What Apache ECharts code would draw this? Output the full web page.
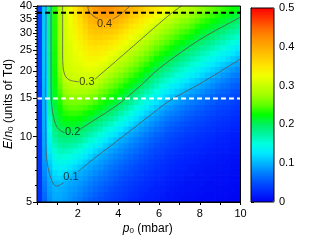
<!DOCTYPE html>
<html><head><meta charset="utf-8">
<script src="https://cdn.jsdelivr.net/npm/echarts@6/dist/echarts.min.js"></script>
<style>html,body{margin:0;padding:0;background:#fff}#c{width:317px;height:240px}</style>
</head><body><div id="c"></div>
<script>
// ---- data ----
// cell edges along p0 (mbar) and along E/n0 (Td)
const pEdges = [0,0.25,0.5,0.75,1,1.25,1.5,1.75,2,2.25,2.5,2.75,3,3.25,3.5,3.75,4,4.25,4.5,4.75,5,5.25,5.5,5.75,6,6.25,6.5,6.75,7,7.25,7.5,7.75,8,8.25,8.5,8.75,9,9.25,9.5,9.75,10];
const eEdges = [5,5.3,5.6,5.95,6.3,6.65,7.05,7.5,7.9,8.4,8.9,9.4,10,10.6,11.2,11.85,12.55,13.3,14.1,14.9,15.8,16.75,17.75,18.8,19.9,21.1,22.3,23.65,25.05,26.55,28.1,29.8,31.55,33.4,35.4,37.5,40];
// one list per p0 column (left to right), values from low E/n0 to high E/n0
const fCol00 = [0.030,0.030,0.031,0.031,0.032,0.032,0.033,0.033,0.034,0.034,0.035,0.035,0.036,0.036,0.037,0.037,0.038,0.038,0.038,0.039,0.039,0.039,0.04,0.04,0.04,0.04,0.04,0.04,0.04,0.04,0.04,0.04,0.04,0.04,0.04,0.04];
const fCol01 = [0.061,0.064,0.068,0.072,0.076,0.08,0.084,0.087,0.09,0.092,0.094,0.095,0.096,0.097,0.098,0.099,0.1,0.101,0.102,0.103,0.104,0.105,0.106,0.107,0.108,0.108,0.109,0.109,0.11,0.11,0.11,0.11,0.11,0.11,0.11,0.11];
const fCol02 = [0.082,0.086,0.09,0.093,0.097,0.102,0.108,0.114,0.12,0.126,0.132,0.138,0.144,0.15,0.156,0.162,0.168,0.171,0.173,0.175,0.176,0.177,0.178,0.178,0.179,0.179,0.179,0.18,0.18,0.18,0.18,0.18,0.18,0.18,0.18,0.18];
const fCol03 = [0.094,0.096,0.099,0.103,0.112,0.12,0.129,0.137,0.146,0.154,0.163,0.172,0.18,0.189,0.197,0.202,0.206,0.209,0.213,0.216,0.22,0.223,0.225,0.226,0.227,0.228,0.229,0.229,0.23,0.231,0.232,0.232,0.233,0.234,0.234,0.235];
const fCol04 = [0.093,0.096,0.098,0.105,0.114,0.124,0.134,0.144,0.154,0.164,0.173,0.183,0.193,0.202,0.208,0.214,0.22,0.226,0.232,0.238,0.244,0.25,0.256,0.262,0.268,0.271,0.272,0.273,0.274,0.275,0.276,0.277,0.277,0.278,0.279,0.28];
const fCol05 = [0.089,0.092,0.095,0.099,0.109,0.12,0.131,0.142,0.153,0.164,0.175,0.186,0.197,0.206,0.216,0.225,0.234,0.243,0.253,0.262,0.271,0.28,0.29,0.299,0.301,0.302,0.303,0.303,0.304,0.305,0.305,0.306,0.307,0.307,0.308,0.309];
const fCol06 = [0.084,0.086,0.09,0.094,0.1,0.112,0.124,0.136,0.148,0.16,0.172,0.184,0.196,0.207,0.217,0.228,0.238,0.249,0.259,0.269,0.28,0.29,0.3,0.302,0.305,0.307,0.309,0.311,0.313,0.315,0.318,0.32,0.322,0.324,0.326,0.329];
const fCol07 = [0.078,0.082,0.086,0.091,0.095,0.104,0.117,0.129,0.142,0.155,0.168,0.181,0.194,0.205,0.216,0.227,0.238,0.249,0.259,0.27,0.281,0.292,0.302,0.306,0.31,0.313,0.317,0.32,0.324,0.328,0.331,0.335,0.339,0.342,0.346,0.349];
const fCol08 = [0.072,0.077,0.081,0.086,0.092,0.098,0.108,0.121,0.134,0.148,0.161,0.175,0.188,0.201,0.213,0.224,0.236,0.247,0.259,0.27,0.281,0.293,0.302,0.307,0.312,0.317,0.322,0.327,0.332,0.337,0.342,0.347,0.352,0.357,0.362,0.367];
const fCol09 = [0.065,0.07,0.075,0.08,0.086,0.092,0.099,0.111,0.125,0.138,0.152,0.166,0.179,0.193,0.206,0.218,0.23,0.243,0.255,0.267,0.28,0.292,0.302,0.309,0.315,0.322,0.328,0.334,0.341,0.347,0.354,0.36,0.367,0.373,0.38,0.387];
const fCol10 = [0.059,0.064,0.069,0.074,0.08,0.086,0.093,0.1,0.114,0.128,0.142,0.156,0.17,0.184,0.198,0.211,0.224,0.237,0.25,0.263,0.276,0.289,0.301,0.309,0.317,0.325,0.333,0.341,0.349,0.357,0.365,0.373,0.381,0.389,0.397,0.403];
const fCol11 = [0.054,0.059,0.063,0.069,0.074,0.081,0.087,0.095,0.104,0.118,0.133,0.147,0.161,0.175,0.189,0.203,0.216,0.23,0.243,0.257,0.27,0.284,0.297,0.307,0.316,0.325,0.333,0.342,0.351,0.36,0.369,0.377,0.386,0.395,0.403,0.412];
const fCol12 = [0.049,0.053,0.058,0.063,0.069,0.075,0.082,0.089,0.097,0.108,0.123,0.137,0.152,0.166,0.18,0.195,0.208,0.221,0.234,0.247,0.26,0.273,0.287,0.3,0.31,0.319,0.329,0.339,0.349,0.359,0.368,0.378,0.388,0.398,0.408,0.419];
const fCol13 = [0.045,0.049,0.054,0.058,0.064,0.07,0.076,0.083,0.09,0.099,0.113,0.127,0.142,0.156,0.171,0.186,0.2,0.213,0.226,0.239,0.251,0.264,0.277,0.29,0.302,0.313,0.323,0.334,0.345,0.356,0.367,0.377,0.388,0.399,0.411,0.423];
const fCol14 = [0.041,0.045,0.049,0.054,0.059,0.064,0.07,0.077,0.084,0.092,0.102,0.117,0.132,0.147,0.162,0.177,0.192,0.205,0.218,0.23,0.242,0.255,0.267,0.279,0.292,0.304,0.316,0.327,0.339,0.351,0.363,0.374,0.386,0.398,0.408,0.419];
const fCol15 = [0.037,0.04,0.044,0.049,0.054,0.059,0.065,0.071,0.078,0.086,0.095,0.106,0.122,0.137,0.152,0.167,0.182,0.197,0.21,0.222,0.234,0.246,0.258,0.27,0.282,0.294,0.307,0.319,0.331,0.344,0.356,0.368,0.381,0.393,0.403,0.411];
const fCol16 = [0.034,0.037,0.041,0.045,0.049,0.054,0.06,0.066,0.073,0.08,0.088,0.097,0.111,0.126,0.141,0.156,0.171,0.186,0.201,0.213,0.225,0.237,0.249,0.261,0.273,0.285,0.297,0.309,0.322,0.335,0.347,0.36,0.373,0.385,0.398,0.406];
const fCol17 = [0.031,0.034,0.037,0.041,0.045,0.05,0.055,0.061,0.067,0.074,0.082,0.091,0.1,0.115,0.13,0.145,0.16,0.175,0.19,0.204,0.216,0.228,0.24,0.252,0.264,0.276,0.288,0.299,0.312,0.325,0.337,0.35,0.363,0.376,0.388,0.4];
const fCol18 = [0.027,0.03,0.034,0.037,0.041,0.046,0.05,0.056,0.062,0.068,0.076,0.084,0.093,0.104,0.119,0.134,0.149,0.164,0.179,0.193,0.206,0.218,0.23,0.242,0.254,0.266,0.277,0.289,0.301,0.314,0.327,0.339,0.352,0.365,0.377,0.391];
const fCol19 = [0.025,0.028,0.031,0.034,0.038,0.042,0.047,0.052,0.057,0.064,0.071,0.078,0.087,0.096,0.108,0.123,0.137,0.152,0.167,0.182,0.196,0.209,0.221,0.233,0.245,0.257,0.268,0.28,0.292,0.304,0.317,0.33,0.343,0.356,0.369,0.383];
const fCol20 = [0.022,0.025,0.027,0.03,0.034,0.038,0.042,0.047,0.052,0.058,0.064,0.071,0.079,0.088,0.098,0.112,0.126,0.141,0.155,0.17,0.184,0.199,0.211,0.223,0.235,0.246,0.258,0.27,0.282,0.294,0.307,0.32,0.333,0.346,0.359,0.373];
const fCol21 = [0.02,0.022,0.025,0.028,0.031,0.034,0.038,0.043,0.048,0.053,0.059,0.066,0.073,0.082,0.091,0.101,0.116,0.13,0.144,0.158,0.172,0.186,0.2,0.213,0.225,0.237,0.249,0.261,0.273,0.285,0.296,0.309,0.322,0.335,0.348,0.363];
const fCol22 = [0.018,0.02,0.022,0.025,0.028,0.031,0.035,0.039,0.043,0.048,0.054,0.06,0.067,0.075,0.084,0.093,0.105,0.119,0.133,0.147,0.161,0.175,0.188,0.202,0.214,0.226,0.238,0.25,0.262,0.274,0.286,0.298,0.312,0.326,0.34,0.354];
const fCol23 = [0.016,0.018,0.02,0.022,0.025,0.028,0.031,0.035,0.039,0.044,0.049,0.055,0.061,0.069,0.077,0.086,0.096,0.109,0.123,0.136,0.15,0.164,0.177,0.191,0.204,0.216,0.228,0.24,0.252,0.264,0.276,0.288,0.3,0.315,0.329,0.345];
const fCol24 = [0.015,0.017,0.019,0.021,0.023,0.026,0.029,0.032,0.036,0.041,0.045,0.051,0.057,0.064,0.071,0.079,0.089,0.099,0.113,0.126,0.14,0.153,0.167,0.181,0.194,0.207,0.219,0.231,0.243,0.255,0.267,0.279,0.291,0.304,0.32,0.336];
const fCol25 = [0.013,0.014,0.016,0.018,0.02,0.023,0.026,0.029,0.032,0.036,0.041,0.046,0.051,0.057,0.064,0.072,0.081,0.091,0.103,0.117,0.13,0.144,0.158,0.171,0.185,0.199,0.211,0.223,0.235,0.247,0.258,0.27,0.282,0.294,0.308,0.326];
const fCol26 = [0.012,0.013,0.015,0.017,0.019,0.021,0.024,0.027,0.03,0.033,0.038,0.042,0.048,0.053,0.06,0.067,0.076,0.085,0.096,0.108,0.122,0.135,0.149,0.163,0.176,0.19,0.203,0.215,0.226,0.238,0.25,0.262,0.274,0.286,0.298,0.316];
const fCol27 = [0.011,0.012,0.013,0.015,0.017,0.019,0.022,0.024,0.027,0.031,0.035,0.039,0.044,0.05,0.056,0.063,0.071,0.08,0.09,0.101,0.114,0.127,0.141,0.154,0.167,0.181,0.194,0.207,0.218,0.23,0.242,0.253,0.265,0.277,0.288,0.3];
const fCol28 = [0.01,0.011,0.012,0.014,0.016,0.018,0.02,0.022,0.025,0.028,0.032,0.036,0.041,0.046,0.052,0.059,0.066,0.074,0.084,0.095,0.107,0.12,0.133,0.146,0.159,0.172,0.186,0.199,0.21,0.222,0.234,0.245,0.257,0.268,0.28,0.293];
const fCol29 = [0.009,0.01,0.011,0.012,0.014,0.016,0.018,0.02,0.023,0.026,0.029,0.033,0.037,0.042,0.048,0.054,0.061,0.069,0.078,0.088,0.1,0.113,0.126,0.139,0.152,0.165,0.178,0.19,0.203,0.216,0.228,0.24,0.253,0.265,0.277,0.29];
const fCol30 = [0.009,0.01,0.011,0.012,0.014,0.016,0.017,0.02,0.022,0.025,0.028,0.032,0.036,0.04,0.045,0.051,0.058,0.065,0.073,0.082,0.093,0.105,0.118,0.131,0.144,0.156,0.169,0.182,0.195,0.207,0.219,0.232,0.244,0.256,0.268,0.281];
const fCol31 = [0.007,0.008,0.01,0.011,0.012,0.014,0.016,0.018,0.02,0.023,0.026,0.029,0.033,0.037,0.042,0.047,0.053,0.06,0.068,0.077,0.087,0.099,0.111,0.124,0.136,0.149,0.161,0.174,0.186,0.199,0.211,0.223,0.235,0.248,0.26,0.273];
const fCol32 = [0.007,0.008,0.009,0.011,0.012,0.014,0.015,0.017,0.019,0.022,0.025,0.028,0.031,0.035,0.04,0.045,0.051,0.057,0.064,0.073,0.082,0.092,0.104,0.117,0.129,0.142,0.154,0.167,0.179,0.192,0.204,0.216,0.228,0.24,0.252,0.265];
const fCol33 = [0.006,0.007,0.008,0.009,0.011,0.012,0.013,0.015,0.017,0.02,0.022,0.025,0.028,0.032,0.036,0.041,0.046,0.052,0.059,0.067,0.076,0.086,0.097,0.109,0.122,0.135,0.147,0.16,0.173,0.185,0.198,0.21,0.222,0.233,0.245,0.257];
const fCol34 = [0.006,0.007,0.008,0.009,0.01,0.012,0.013,0.015,0.017,0.019,0.021,0.024,0.027,0.031,0.034,0.039,0.044,0.049,0.056,0.063,0.071,0.08,0.09,0.102,0.115,0.128,0.14,0.153,0.166,0.179,0.191,0.204,0.215,0.227,0.238,0.25];
const fCol35 = [0.005,0.006,0.007,0.008,0.009,0.01,0.011,0.013,0.015,0.016,0.019,0.021,0.024,0.027,0.031,0.035,0.039,0.045,0.051,0.057,0.065,0.074,0.084,0.095,0.107,0.12,0.133,0.146,0.159,0.171,0.184,0.197,0.209,0.22,0.231,0.244];
const fCol36 = [0.005,0.006,0.007,0.008,0.009,0.01,0.011,0.013,0.014,0.016,0.018,0.02,0.023,0.026,0.029,0.033,0.038,0.042,0.048,0.054,0.061,0.069,0.078,0.088,0.1,0.113,0.126,0.139,0.152,0.165,0.178,0.19,0.203,0.214,0.225,0.238];
const fCol37 = [0.005,0.006,0.007,0.008,0.009,0.01,0.011,0.012,0.014,0.016,0.018,0.02,0.022,0.025,0.028,0.032,0.036,0.04,0.046,0.051,0.058,0.065,0.073,0.083,0.093,0.106,0.119,0.132,0.145,0.158,0.17,0.183,0.196,0.208,0.219,0.232];
const fCol38 = [0.004,0.005,0.006,0.006,0.007,0.008,0.009,0.01,0.012,0.013,0.015,0.017,0.019,0.022,0.025,0.028,0.032,0.036,0.041,0.046,0.052,0.059,0.067,0.076,0.087,0.098,0.111,0.125,0.138,0.151,0.164,0.177,0.19,0.203,0.214,0.226];
const fCol39 = [0.004,0.005,0.005,0.006,0.007,0.008,0.009,0.01,0.011,0.013,0.015,0.016,0.019,0.021,0.024,0.027,0.03,0.034,0.039,0.044,0.05,0.056,0.063,0.072,0.081,0.092,0.104,0.117,0.13,0.143,0.157,0.17,0.183,0.196,0.208,0.22];
const fColumns = [fCol00,fCol01,fCol02,fCol03,fCol04,fCol05,fCol06,fCol07,fCol08,fCol09,fCol10,fCol11,fCol12,fCol13,fCol14,fCol15,fCol16,fCol17,fCol18,fCol19,
                  fCol20,fCol21,fCol22,fCol23,fCol24,fCol25,fCol26,fCol27,fCol28,fCol29,fCol30,fCol31,fCol32,fCol33,fCol34,fCol35,fCol36,fCol37,fCol38,fCol39];

// contour lines [p0, E/n0], split where the level label sits
const contourLevels = ['0.1','0.2','0.3','0.4'];
const contour01a = [[0.44,40],[0.43,26],[0.42,18],[0.41,14.8],[0.42,11.5],[0.44,8.7],[0.5,7.6],[0.6,6.8],[0.75,6.2],[0.93,5.92],[1.1,5.97],[1.3,6.12]];
const contour01b = [[2.02,6.9],[2.6,7.66],[4.0,9.66],[5.3,12.0],[6.54,14.7],[8.0,17.5],[10,22.8]];
const contour02a = [[0.69,40],[0.69,25],[0.69,18],[0.7,14.8],[0.75,13.2],[0.82,12.2],[0.95,11.2],[1.15,10.65],[1.35,10.45]];
const contour02b = [[2.1,10.8],[2.8,11.9],[4.0,14.1],[5.0,16.9],[6.0,20.6],[8.0,28.0],[10,35.5]];
const contour03a = [[1.26,40],[1.26,30],[1.26,24],[1.28,21],[1.36,19.3],[1.5,18.5],[1.7,18.1],[2.05,17.9]];
const contour03b = [[2.85,18.4],[4.0,22.8],[5.0,27.5],[6.0,33.2],[6.6,37],[7.1,40]];
const contour04a = [[2.5,40],[2.52,38.5],[2.6,37.2],[2.8,35.8],[3.0,35.0]];
const contour04b = [[3.72,34.8],[4.1,36.6],[4.57,40]];
const contourLabelPos = [[1.67,6.52],[1.75,10.5],[2.45,17.9],[3.32,33.0]];

// effective temperature reference levels
const teffLevels = [37.2, 15];
const teffLabels = ['880 K', '300 K'];

// ticks
const xTickLabels = [2,4,6,8,10];
const yTickLabels = [5,10,15,20,25,30,35,40];
const yMinorTicks = [5,6,7,8,9,10,11,12,13,14,15,16,17,18,19,20,21,22,23,24,25,26,27,28,29,30,31,32,33,34,35,36,37,38,39,40];
const colorbarTicks = [0,0.1,0.2,0.3,0.4,0.5];
const colorStops = ['#0000f0','#0028ff','#0050ff','#0080ff','#00b4ff','#00e8ff','#00ffe0','#00f4a0','#00f060','#00ff00','#60ff00','#a0ff00','#c8ff00','#f0ff00','#ffe600','#ffc800','#ffaa00','#ff8c00','#ff6400','#ff3200','#ff0000'];

// ---- chart ----
const lg = Math.log10;
const cells = [];
for (let i = 0; i < pEdges.length - 1; i++) {
  for (let j = 0; j < eEdges.length - 1; j++) {
    cells.push([pEdges[i], pEdges[i+1], lg(eEdges[j]), lg(eEdges[j+1]), fColumns[i][j]]);
  }
}
function renderCell(params, api) {
  const a = api.coord([api.value(0), api.value(3)]);
  const b = api.coord([api.value(1), api.value(2)]);
  return {type:'rect', shape:{x:a[0], y:a[1], width:b[0]-a[0]+0.7, height:b[1]-a[1]+0.7},
          style:{fill: api.visual('color')}};
}
const FONT = 'Liberation Sans, Arial, Helvetica, sans-serif';
const subRich = {
  i:{fontStyle:'italic', fontSize:12, fontFamily:FONT, color:'#000'},
  sub:{fontSize:8, fontFamily:FONT, color:'#000', padding:[5,0,0,0]}
};
const series = [{
  type:'custom', renderItem: renderCell, data: cells, clip:true,
  dimensions:['x0','x1','y0','y1','f'], encode:{x:[0,1], y:[2,3]},
  xAxisIndex:0, yAxisIndex:0, silent:true, z:1
}];
const contourSegs = [contour01a,contour01b,contour02a,contour02b,contour03a,contour03b,contour04a,contour04b];
contourSegs.forEach(seg => series.push({
  type:'line', xAxisIndex:0, yAxisIndex:0, data: seg.map(d => [d[0], lg(d[1])]),
  symbol:'none', smooth:0.3, silent:true, z:3,
  lineStyle:{color:'#555', width:0.8}
}));
series.push({
  type:'scatter', xAxisIndex:0, yAxisIndex:0, symbolSize:0, silent:true, z:4,
  data: contourLabelPos.map((d,k) => ({value:[d[0], lg(d[1])], label:{formatter: contourLevels[k]}})),
  label:{show:true, position:'inside', fontSize:11, color:'#111', fontFamily:FONT}
});
teffLevels.forEach((e,k) => {
  const col = k === 0 ? '#000' : '#fff';
  series.push({
    type:'line', xAxisIndex:0, yAxisIndex:0, symbol:'none', silent:true, z:5,
    lineStyle:{color:col, width:2, type:[5,3]},
    data:[[0, lg(e)], {value:[10, lg(e)], label:{show:true, position:'bottom', align:'right', offset:[-3,0],
      formatter:'{i|T}{s|eff} = ' + teffLabels[k], fontSize:11, color:col, fontFamily:FONT,
      rich:{i:{fontStyle:'italic', fontSize:11, color:col, fontFamily:FONT},
            s:{fontSize:8, color:col, fontFamily:FONT, padding:[5,0,0,0]}}}}]
  });
});

const option = {
  animation:false,
  textStyle:{fontFamily:FONT},
  grid:[
    {left:37, right:76.5, top:6, bottom:38, show:true, borderColor:'#000', borderWidth:1, backgroundColor:'transparent', z:6, outerBoundsMode:'none', containLabel:false},
    {left:251, top:8, width:23, height:194, show:true, borderColor:'#000', borderWidth:1, backgroundColor:'transparent', z:6, outerBoundsMode:'none', containLabel:false}
  ],
  xAxis:[
    {gridIndex:0, type:'value', min:0, max:10, interval:1,
     axisLine:{show:true, lineStyle:{color:'#000', width:1}},
     axisTick:{show:true, length:3, lineStyle:{color:'#000'}},
     axisLabel:{customValues:xTickLabels, fontSize:11, color:'#000', margin:6},
     splitLine:{show:false},
     name:'{i|p}{sub|0} (mbar)', nameLocation:'middle', nameGap:20, nameMoveOverlap:false,
     nameTextStyle:{fontSize:12, color:'#000', padding:[0,0,0,18], rich:subRich}},
    {gridIndex:1, type:'value', min:0, max:1, show:false}
  ],
  yAxis:[
    {gridIndex:0, type:'value', min:lg(5), max:lg(40),
     axisLine:{show:true, lineStyle:{color:'#000', width:1}},
     axisTick:{show:true, length:4, customValues:yTickLabels.map(lg), lineStyle:{color:'#000'}},
     axisLabel:{customValues:yTickLabels.map(lg), formatter:v => String(Math.round(Math.pow(10, v))), fontSize:11, color:'#000', margin:5},
     splitLine:{show:false},
     name:'{i|E}/{i|n}{sub|0} (units of Td)', nameLocation:'middle', nameGap:22, nameMoveOverlap:false,
     nameTextStyle:{fontSize:12, color:'#000', rich:subRich}},
    {gridIndex:0, type:'value', min:lg(5), max:lg(40), position:'left',
     axisLine:{show:false}, axisLabel:{show:false}, splitLine:{show:false},
     axisTick:{show:true, length:2, customValues:yMinorTicks.map(lg), lineStyle:{color:'#000'}}},
    {gridIndex:1, type:'value', min:0, max:0.5, position:'right',
     axisLine:{show:true, lineStyle:{color:'#000'}},
     axisTick:{show:true, length:3, customValues:colorbarTicks, lineStyle:{color:'#000'}},
     axisLabel:{customValues:colorbarTicks, fontSize:11, color:'#000', margin:5},
     splitLine:{show:false}}
  ],
  visualMap:{
    type:'continuous', min:0, max:0.5, dimension:4, seriesIndex:0, calculable:false,
    orient:'vertical', left:251, top:8, itemWidth:23, itemHeight:194, padding:0,
    hoverLink:false, inRange:{color:colorStops}, z:2
  },
  series: series
};
const chart = echarts.init(document.getElementById('c'), null, {renderer:'canvas'});
chart.setOption(option);
</script></body></html>
